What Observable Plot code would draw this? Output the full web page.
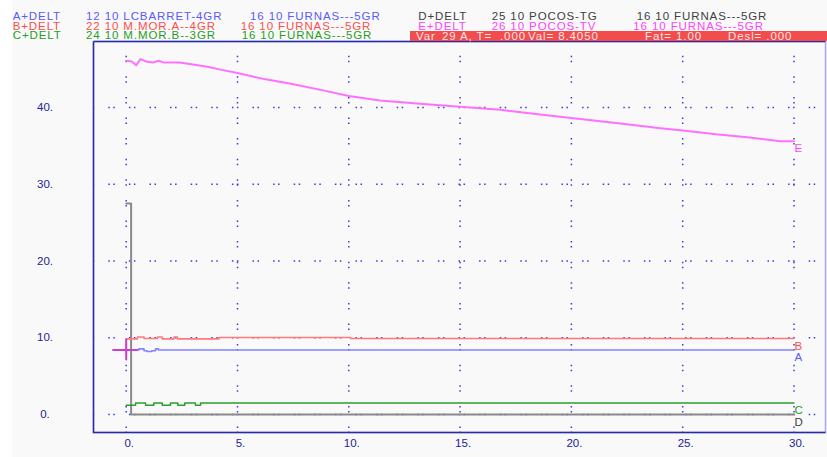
<!DOCTYPE html>
<html>
<head>
<meta charset="utf-8">
<script src="https://cdn.jsdelivr.net/npm/d3@7"></script>
<script src="https://cdn.jsdelivr.net/npm/@observablehq/plot@0.6"></script>
<style>
  html, body { margin: 0; padding: 0; background: #ffffff; }
  #wrap { position: relative; width: 827px; height: 457px; overflow: hidden; font-family: "Liberation Sans", Arial, sans-serif; }
  #win { position: absolute; left: 12px; top: 0; width: 815px; height: 457px; background: #f9f9f9; }
  #chart { position: absolute; left: 0; top: 0; }
  .h { position: absolute; font-size: 11.5px; line-height: 9px; letter-spacing: 0.9px; white-space: pre; }
  #bar { position: absolute; left: 409.5px; top: 30.5px; width: 418px; height: 10px; background: #f24c4c; }
</style>
</head>
<body>
<div id="wrap">
  <div id="win"></div>
  <div id="chart"></div>
  <div id="bar"></div>
  <div id="hdr"></div>
</div>
<script>
// ---- data ----
const seriesKeys  = ["A", "B", "C", "D", "E"];
const seriesCodes = ["A+DELT", "B+DELT", "C+DELT", "D+DELT", "E+DELT"];
const seriesFrom  = ["12 10 LCBARRET-4GR", "22 10 M.MOR.A--4GR", "24 10 M.MOR.B--3GR", "25 10 POCOS-TG", "26 10 POCOS-TV"];
const seriesTo    = ["16 10 FURNAS---5GR", "16 10 FURNAS---5GR", "16 10 FURNAS---5GR", "16 10 FURNAS---5GR", "16 10 FURNAS---5GR"];

const tA = [0, 0.45, 0.57, 0.8, 0.94, 1.15, 1.32, 1.45, 30];
const vA = [8.4, 8.4, 8.55, 8.3, 8.2, 8.3, 8.55, 8.4, 8.4];

const tB = [0, 0.5, 0.8, 1.4, 1.62, 2.15, 2.3, 4.17, 10.08, 30];
const vB = [9.85, 10.1, 9.9, 10.1, 9.85, 10.1, 9.85, 10.03, 9.9, 9.9];

const tC = [0, 0.42, 0.87, 1.24, 1.62, 1.99, 2.32, 2.63, 3.11, 3.34, 30];
const vC = [1.2, 1.5, 1.2, 1.5, 1.2, 1.5, 1.2, 1.5, 1.2, 1.5, 1.5];

const tD = [0, 0.22, 30];
const vD = [27.5, 0, 0];

const tE = [0, 0.25, 0.45, 0.64, 0.9, 1.2, 1.45, 1.7, 2.4, 3.0, 3.65, 4.3, 5.0, 6.2, 7.4, 8.9, 10.0, 11.4, 13.2, 15.0, 16.8, 18.6, 20.4, 22.2, 24.0, 25.0, 26.5, 28.0, 29.4, 30.0];
const vE = [46.1, 46.0, 45.5, 46.3, 46.0, 45.85, 46.1, 45.85, 45.85, 45.6, 45.3, 44.9, 44.5, 43.7, 43.1, 42.2, 41.5, 40.9, 40.5, 40.1, 39.7, 39.1, 38.5, 37.9, 37.3, 37.0, 36.5, 36.1, 35.6, 35.6];

const xTicks = [0, 5, 10, 15, 20, 25, 30];
const yTicks = [0, 10, 20, 30, 40];

const cursorVar = "29 A";
const cursorT = 0.000;
const cursorVal = 8.4050;
const cursorFat = 1.00;
const cursorDesl = 0.000;

// ---- styles ----
const lineColor = {A: "#8282ff", B: "#ff7a7a", C: "#2aa02a", D: "#8a8a8a", E: "#ff70ff"};
const textColor = {A: "#5a5aff", B: "#ff4d4d", C: "#1f9f1f", D: "#404040", E: "#ff44ff"};
const lineWidth = {A: 1.6, B: 1.6, C: 1.5, D: 2, E: 2};

const seriesT = {A: tA, B: tB, C: tC, D: tD, E: tE};
const seriesV = {A: vA, B: vB, C: vC, D: vD, E: vE};
const rows = seriesKeys.map(k => seriesT[k].map((t, i) => ({key: k, t, v: seriesV[k][i]})));
const lastPts = rows.map(r => r[r.length - 1]);

const W = 827, H = 457, mT = 41, mL = 93, mR = 2, mB = 25;
const fw = W - mL - mR, fh = H - mT - mB;
const dash = "1.5,3.5,1.5,14.1";

const chart = Plot.plot({
  width: W, height: H,
  marginTop: mT, marginLeft: mL, marginRight: mR, marginBottom: mB,
  style: {background: "transparent", fontFamily: "Liberation Sans, Arial, sans-serif", fontSize: "11.5px", overflow: "visible"},
  x: {domain: [0, 30], range: [125.7, 793.5]},
  y: {domain: [0, 40], range: [414, 107]},
  marks: [
    Plot.ruleY(yTicks, {stroke: "#3b3bd6", strokeWidth: 1.5, strokeDasharray: dash, strokeDashoffset: 5.3}),
    Plot.ruleX(xTicks, {stroke: "#3b3bd6", strokeWidth: 1.5, strokeDasharray: dash, strokeDashoffset: 5.9}),
    Plot.frame({stroke: "#a8a8f0", strokeWidth: 1.5}),
    Plot.frame({stroke: "#2b2ba6", strokeWidth: 1.5, strokeDasharray: `${fw},${fh},${fw + fh},0`}),
    ...["D", "C", "A", "B", "E"].map(k =>
      Plot.line(rows[seriesKeys.indexOf(k)], {x: "t", y: "v", curve: k === "E" ? "linear" : "step-after",
        stroke: lineColor[k], strokeWidth: lineWidth[k]})),
    Plot.ruleY([{t: cursorT, v: cursorVal}], {y: "v", x1: d => d.t - 0.6, x2: d => d.t + 0.55, stroke: "#c840c8", strokeWidth: 2}),
    Plot.ruleX([{t: cursorT, v: cursorVal}], {x: "t", y1: d => d.v - 1.4, y2: d => d.v + 1.4, stroke: "#c840c8", strokeWidth: 2}),
    Plot.text(lastPts, {x: "t", y: "v", text: "key", fill: d => textColor[d.key], dx: 0.5, dy: 3,
      textAnchor: "start", lineAnchor: "top", fontSize: 11.5}),
    Plot.axisY(yTicks, {tickSize: 0, tickPadding: 48.5, textAnchor: "middle", tickFormat: d => d + ".",
      fill: "#22229a", label: null}),
    Plot.axisX(xTicks, {tickSize: 0, tickPadding: 6, dx: 3, tickFormat: d => d + ".",
      fill: "#22229a", label: null})
  ]
});
document.getElementById("chart").appendChild(chart);

// ---- header ----
const hdr = document.getElementById("hdr");
function put(text, x, baseline, color) {
  const el = document.createElement("div");
  el.className = "h";
  el.textContent = text;
  el.style.left = x + "px";
  el.style.top = (baseline - 8.5) + "px";
  el.style.color = color;
  hdr.appendChild(el);
}
const baseRow = [20, 30, 39.5];
const colX = {
  A: [12.7, 86, 250], B: [12.7, 86, 240.7], C: [12.7, 86, 241.7],
  D: [418.3, 491.7, 636.7], E: [418.3, 491.7, 633.3]
};
const rowOf = {A: 0, B: 1, C: 2, D: 0, E: 1};
seriesKeys.forEach((k, i) => {
  const xs = colX[k], b = baseRow[rowOf[k]];
  put(seriesCodes[i], xs[0], b, textColor[k]);
  put(seriesFrom[i], xs[1], b, textColor[k]);
  put(seriesTo[i], xs[2], b, textColor[k]);
});
const fmt3 = v => v.toFixed(3).replace(/^0/, "");
const barColor = "#ffe4e4";
put("Var", 416, 40, barColor);
put(`${cursorVar}, T=`, 442, 40, barColor);
put(fmt3(cursorT), 500, 40, barColor);
put(`Val= ${cursorVal.toFixed(4)}`, 528, 40, barColor);
put(`Fat= ${cursorFat.toFixed(2)}`, 645, 40, barColor);
put(`Desl= ${fmt3(cursorDesl)}`, 728, 40, barColor);
</script>
</body>
</html>
